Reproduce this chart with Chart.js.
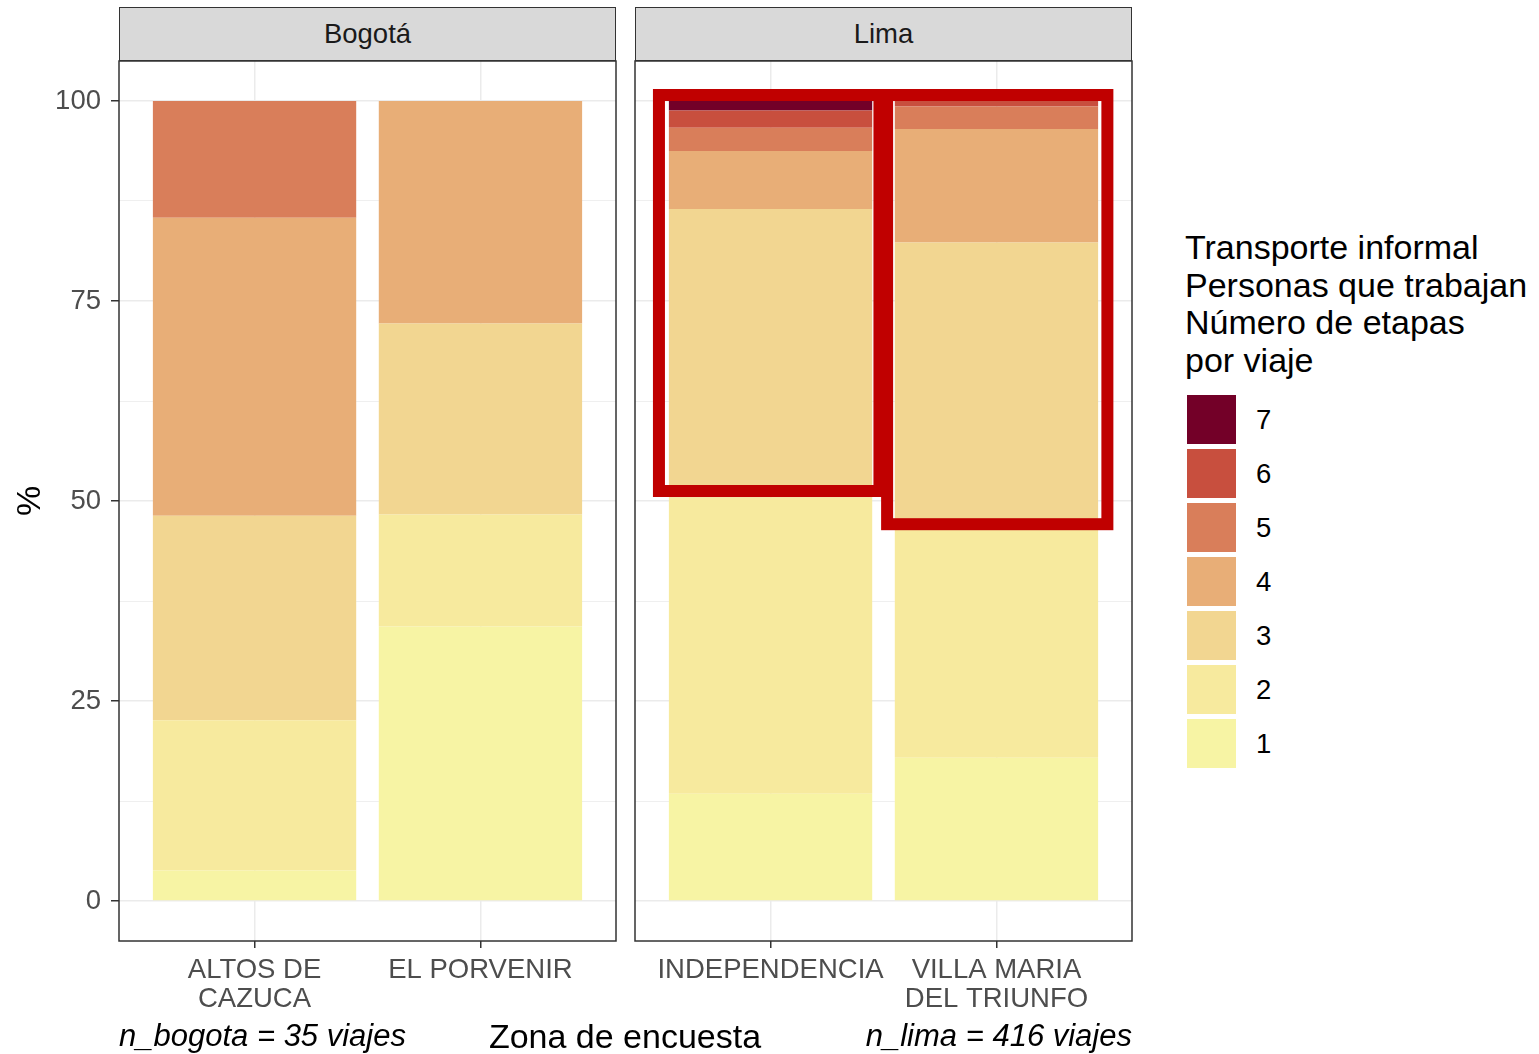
<!DOCTYPE html>
<html>
<head>
<meta charset="utf-8">
<script src="https://cdn.jsdelivr.net/npm/chart.js@4.4.1/dist/chart.umd.min.js"></script>
<style>
  body { margin: 0; background: #fff; font-family: "Liberation Sans", Arial, sans-serif; }
  #wrap { position: relative; width: 1539px; height: 1054px; overflow: hidden; }
  canvas { position: absolute; top: 0; }
  .strip { position: absolute; top: 7px; height: 54px; box-sizing: border-box; border: 1.5px solid #333;
           background: #d9d9d9; color: #1a1a1a; font-size: 27.5px; line-height: 52px; text-align: center; }
  .note { position: absolute; top: 1020px; font-size: 31px; line-height: 32px; font-style: italic; white-space: nowrap; }
  #xtitle { position: absolute; top: 1018px; left: 425px; width: 400px; text-align: center; font-size: 34px; line-height: 36px; }
  #ltitle { position: absolute; left: 1185px; top: 229px; font-size: 34px; line-height: 37.5px; white-space: nowrap; }
  #legend { position: absolute; left: 1187px; top: 395px; }
  .item { position: relative; height: 54px; }
  .key { position: absolute; left: 0; top: 0; width: 49px; height: 49px; }
  .lab { position: absolute; left: 69px; top: 0; line-height: 49px; font-size: 27.5px; }
</style>
</head>
<body>
<div id="wrap">
  <canvas id="bogota" width="625" height="1054" style="left:0"></canvas>
  <canvas id="lima" width="515" height="1054" style="left:625px"></canvas>
  <div class="strip" id="s0" style="left:119px; width:497px;"></div>
  <div class="strip" id="s1" style="left:635px; width:497px;"></div>
  <div class="note" style="left:119px;">n_bogota = 35 viajes</div>
  <div id="xtitle">Zona de encuesta</div>
  <div class="note" style="right:407px;">n_lima = 416 viajes</div>
  <div id="ltitle">Transporte informal<br>Personas que trabajan<br>Número de etapas<br>por viaje</div>
  <div id="legend"></div>
</div>
<script>
const panels = ['Bogotá', 'Lima'];
const stages = ['1', '2', '3', '4', '5', '6', '7'];
const stageColors = ['#f7f4a4', '#f7ea9e', '#f2d691', '#e8ae77', '#d97e5a', '#c84f3e', '#730028'];

const bogotaZones = [['ALTOS DE', 'CAZUCA'], ['EL PORVENIR']];
const limaZones = [['INDEPENDENCIA'], ['VILLA MARIA', 'DEL TRIUNFO']];

// % of trips per number of stages, one row per stage (1..7), one column per zone
const bogotaValues = [
  [3.8, 34.3],
  [18.8, 14.0],
  [25.55, 23.9],
  [37.25, 27.8],
  [14.6, 0],
  [0, 0],
  [0, 0]
];
const limaValues = [
  [13.4, 17.9],
  [37.0, 29.1],
  [36.1, 35.3],
  [7.25, 14.2],
  [2.9, 2.8],
  [2.15, 0.7],
  [1.2, 0]
];

const yTicks = [0, 25, 50, 75, 100];
const yMinor = [12.5, 37.5, 62.5, 87.5];

// red highlight boxes on the Lima panel (zone index units / %)
const hlFrom = [-0.494, 0.516];
const hlTo = [0.482, 1.491];
const hlTop = [100.75, 100.75];
const hlBottom = [51.25, 47.1];

const family = '"Liberation Sans", Arial, sans-serif';

const panelBorder = {
  id: 'panelBorder',
  afterDraw(chart) {
    const a = chart.chartArea, c = chart.ctx;
    c.save();
    c.strokeStyle = '#333';
    c.lineWidth = 1.5;
    c.strokeRect(a.left, a.top, a.right - a.left, a.bottom - a.top);
    c.restore();
  }
};

const highlight = {
  id: 'highlight',
  afterDatasetsDraw(chart) {
    const x = chart.scales.x, y = chart.scales.y, c = chart.ctx;
    c.save();
    c.strokeStyle = '#c00000';
    c.lineWidth = 12;
    for (let i = 0; i < hlFrom.length; i++) {
      const x0 = x.getPixelForValue(hlFrom[i]), x1 = x.getPixelForValue(hlTo[i]);
      const y0 = y.getPixelForValue(hlTop[i]), y1 = y.getPixelForValue(hlBottom[i]);
      c.strokeRect(x0, y0, x1 - x0, y1 - y0);
    }
    c.restore();
  }
};

function makePanel(id, zones, values, withY, extra) {
  const datasets = stages.map((s, k) => ({
    label: s,
    data: values[k].map((v, i) => ({ x: i, y: v })),
    backgroundColor: stageColors[k],
    borderWidth: 0,
    barPercentage: 0.9,
    categoryPercentage: 1
  }));
  const isMajor = c => yTicks.includes(c.tick.value);
  return new Chart(document.getElementById(id), {
    type: 'bar',
    data: { datasets: datasets },
    options: {
      responsive: false,
      animation: false,
      layout: { padding: withY ? { top: 61, right: 9, left: 0, bottom: 0 } : { top: 61, right: 8, left: 10, bottom: 0 } },
      plugins: { legend: { display: false }, tooltip: { enabled: false } },
      scales: {
        x: {
          type: 'linear', stacked: true, min: -0.6, max: 1.6, offset: false,
          afterBuildTicks: s => { s.ticks = zones.map((z, i) => ({ value: i })); },
          afterFit: s => { s.height = 113; },
          border: { display: false },
          grid: { color: '#ebebeb', lineWidth: 1.5, offset: false, tickColor: '#333', tickLength: 7, tickWidth: 1.5 },
          ticks: {
            color: '#4d4d4d', font: { family: family, size: 27.5, lineHeight: 1.055 },
            padding: 8, maxRotation: 0, autoSkip: false,
            callback: v => zones[v]
          }
        },
        y: {
          stacked: true, min: -5, max: 105,
          afterBuildTicks: s => { s.ticks = yTicks.concat(yMinor).sort((a, b) => a - b).map(v => ({ value: v })); },
          afterFit: s => { s.width = withY ? 119 : 0; },
          border: { display: false },
          grid: {
            color: '#ebebeb',
            lineWidth: c => isMajor(c) ? 1.5 : 0.8,
            tickColor: c => isMajor(c) ? '#333' : 'rgba(0,0,0,0)',
            tickLength: 8, tickWidth: 1.5, drawTicks: withY
          },
          ticks: {
            display: withY, color: '#4d4d4d', padding: 10,
            font: { family: family, size: 27.5 },
            callback: v => yTicks.includes(v) ? String(v) : ''
          },
          title: {
            display: withY, text: '%', color: '#000',
            font: { family: family, size: 34 }, padding: { top: 10, bottom: 0 }
          }
        }
      }
    },
    plugins: extra
  });
}

makePanel('bogota', bogotaZones, bogotaValues, true, [panelBorder]);
makePanel('lima', limaZones, limaValues, false, [panelBorder, highlight]);

document.getElementById('s0').textContent = panels[0];
document.getElementById('s1').textContent = panels[1];

const legend = document.getElementById('legend');
for (let k = stages.length - 1; k >= 0; k--) {
  const item = document.createElement('div');
  item.className = 'item';
  item.innerHTML = '<div class="key" style="background:' + stageColors[k] + '"></div><div class="lab">' + stages[k] + '</div>';
  legend.appendChild(item);
}
</script>
</body>
</html>
